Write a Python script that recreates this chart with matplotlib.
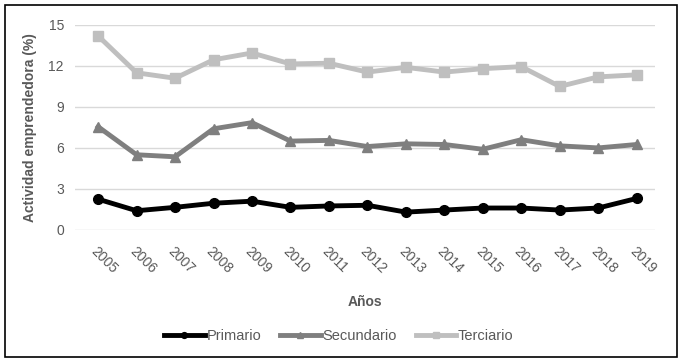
import numpy as np
import matplotlib.pyplot as plt
from matplotlib.patches import Rectangle

plt.rcParams['font.family'] = ['Liberation Sans', 'DejaVu Sans']

anios = ['2005', '2006', '2007', '2008', '2009', '2010', '2011', '2012',
         '2013', '2014', '2015', '2016', '2017', '2018', '2019']
primario = [2.25, 1.4, 1.65, 1.95, 2.1, 1.65, 1.75, 1.8, 1.3, 1.45, 1.6, 1.6, 1.45, 1.6, 2.3]
secundario = [7.55, 5.5, 5.35, 7.4, 7.85, 6.5, 6.55, 6.1, 6.3, 6.25, 5.9, 6.6, 6.15, 6.0, 6.25]
terciario = [14.2, 11.5, 11.1, 12.45, 12.95, 12.15, 12.2, 11.55, 11.9, 11.55, 11.8, 11.95, 10.5, 11.2, 11.35]

gris = '#595959'
fig = plt.figure(figsize=(6.82, 3.62), dpi=100)
ax = fig.add_axes([0.11, 0.365, 0.85, 0.566])

x = np.arange(len(anios))
ax.plot(x, primario, color='black', lw=3.5, marker='o', ms=7, label='Primario')
ax.plot(x, secundario, color='#7f7f7f', lw=3.5, marker='^', ms=7, label='Secundario')
ax.plot(x, terciario, color='#bfbfbf', lw=3.5, marker='s', ms=7, label='Terciario')

ax.set_ylim(0, 15)
ax.set_xlim(-0.6, 14.47)
ax.set_yticks([0, 3, 6, 9, 12, 15])
ax.set_xticks(x)
ax.set_xticklabels(anios, rotation=-45, ha='left', rotation_mode='anchor')
ax.grid(axis='y', color='#d9d9d9', lw=1)
ax.set_axisbelow(True)
for s in ax.spines.values():
    s.set_visible(False)
ax.tick_params(length=0, labelsize=10, colors=gris, pad=8)
ax.tick_params(axis='x', pad=10)
ax.set_ylabel('Actividad emprendedora (%)', fontsize=10, fontweight='bold', color=gris, labelpad=8)
ax.set_xlabel('Años', fontsize=10, fontweight='bold', color=gris, labelpad=14)

ax.legend(loc='upper center', bbox_to_anchor=(0.455, -0.42), ncol=3, frameon=False,
          fontsize=10.5, handlelength=2.8, handletextpad=0.1, columnspacing=1.3,
          markerscale=0.6, labelcolor=gris)

fig.add_artist(Rectangle((0.007, 0.015), 0.985, 0.97, transform=fig.transFigure,
                         fill=False, ec='black', lw=1.2))

fig.savefig('out.png', dpi=100)
